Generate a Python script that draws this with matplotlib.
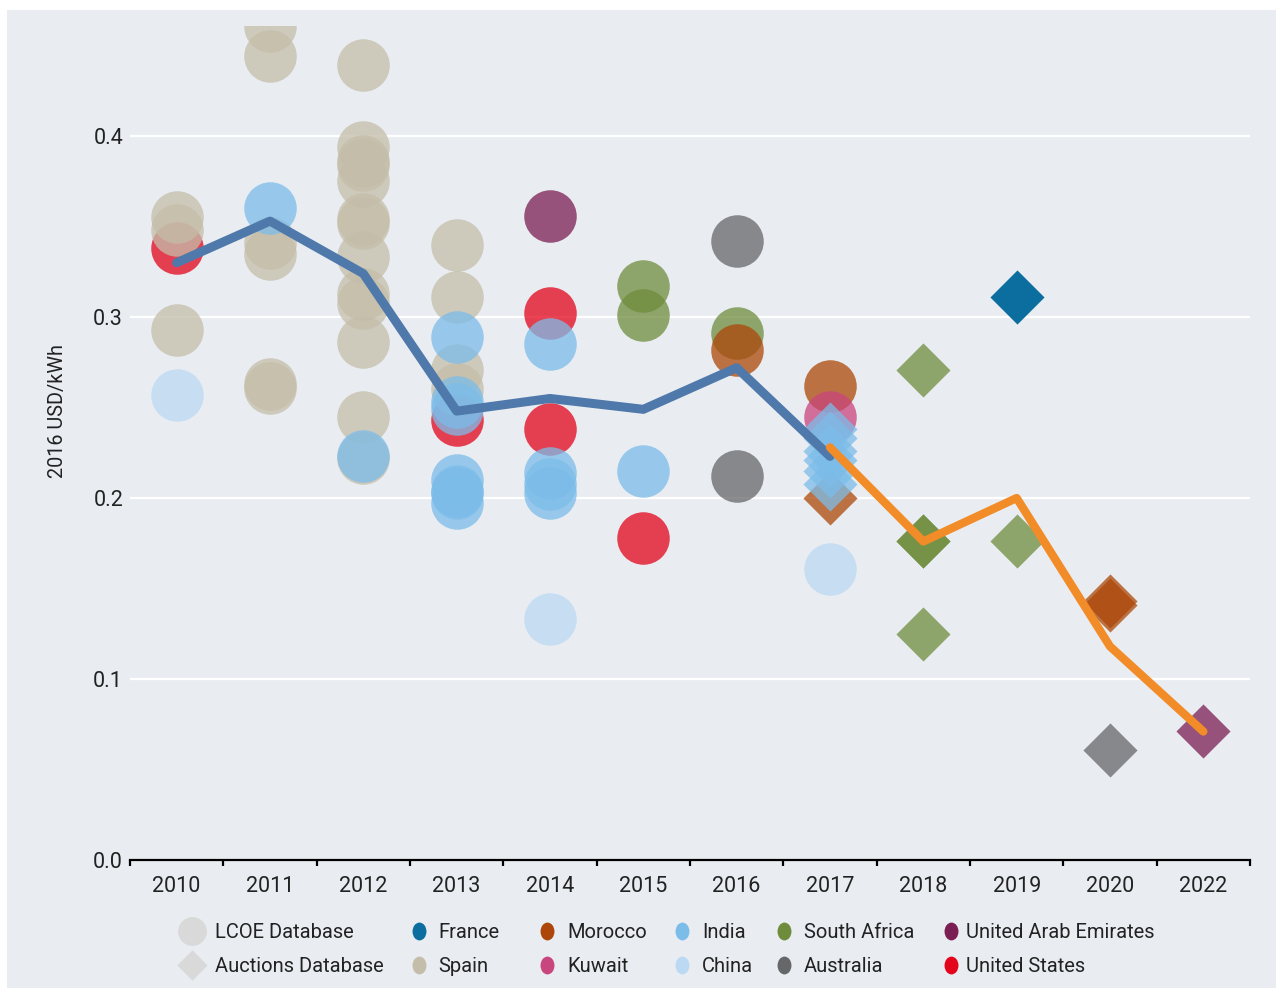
import matplotlib
matplotlib.use("Agg")
import matplotlib.pyplot as plt
from matplotlib.patches import Rectangle
from matplotlib.markers import MarkerStyle
from matplotlib.transforms import Affine2D

plt.rcParams['font.family'] = ['Roboto', 'DejaVu Sans']

# ---------------- data ----------------
years = ['2010', '2011', '2012', '2013', '2014', '2015', '2016', '2017',
         '2018', '2019', '2020', '2022']

# LCOE database (circles), values in 2016 USD/kWh
us_lcoe = {'2010': [0.338], '2013': [0.243], '2014': [0.302, 0.238], '2015': [0.178]}
spain_lcoe = {
    '2010': [0.355, 0.348, 0.293],
    '2011': [0.461, 0.444, 0.341, 0.335, 0.263, 0.261],
    '2012': [0.439, 0.394, 0.386, 0.384, 0.375, 0.354, 0.352, 0.333,
             0.313, 0.308, 0.286, 0.245, 0.222],
    '2013': [0.340, 0.311, 0.271, 0.260],
}
india_lcoe = {
    '2011': [0.360], '2012': [0.223],
    '2013': [0.289, 0.253, 0.249, 0.210, 0.204, 0.203, 0.197],
    '2014': [0.285, 0.214, 0.208, 0.203], '2015': [0.215],
}
china_lcoe = {'2010': [0.257], '2014': [0.133], '2017': [0.161]}
south_africa_lcoe = {'2015': [0.317, 0.301], '2016': [0.291]}
morocco_lcoe = {'2016': [0.282], '2017': [0.262]}
australia_lcoe = {'2016': [0.342, 0.212]}
kuwait_lcoe = {'2017': [0.245]}
uae_lcoe = {'2014': [0.356]}

# Auctions database (diamonds)
morocco_auc = {'2017': [0.200], '2020': [0.143, 0.141]}
india_auc = {'2017': [0.238, 0.233, 0.226, 0.221, 0.215, 0.208]}
south_africa_auc = {'2018': [0.271, 0.176, 0.176, 0.125], '2019': [0.176]}
france_auc = {'2019': [0.311]}
australia_auc = {'2020': [0.061]}
uae_auc = {'2022': [0.071]}

# Averages
lcoe_avg_years = ['2010', '2011', '2012', '2013', '2014', '2015', '2016', '2017']
lcoe_avg = [0.330, 0.353, 0.324, 0.248, 0.255, 0.249, 0.272, 0.223]
auction_avg_years = ['2017', '2018', '2019', '2020', '2022']
auction_avg = [0.228, 0.176, 0.200, 0.118, 0.071]

# colours
C = {
    'France': '#0b6e9f', 'Morocco': '#ad4709', 'India': '#7cbce9',
    'South Africa': '#6f8c3c', 'United Arab Emirates': '#7b1e53',
    'Spain': '#c4bda9', 'Kuwait': '#c9457d', 'China': '#bcd9f3',
    'Australia': '#666769', 'United States': '#e3051b',
}
BG = '#e9edf2'

# ---------------- figure ----------------
W, H = 1279, 990
fig = plt.figure(figsize=(W / 100, H / 100), dpi=100)
fig.patches.append(Rectangle((7 / W, 2 / H), (1276 - 7) / W, (988 - 10) / H,
                             transform=fig.transFigure, facecolor=BG,
                             edgecolor='none', zorder=-10))

ax = fig.add_axes([130 / W, 130 / H, 1120 / W, (860 - 26) / H])
ax.set_facecolor('none')
xi = {y: i for i, y in enumerate(years)}


def pts(d):
    xs, ys = [], []
    for k, vals in d.items():
        for v in vals:
            xs.append(xi[k])
            ys.append(v)
    return xs, ys


S_CIRCLE = 1430
S_DIAMOND = 760
A = 0.75

for d, c in [(us_lcoe, 'United States'), (spain_lcoe, 'Spain'),
             (india_lcoe, 'India'), (china_lcoe, 'China'),
             (south_africa_lcoe, 'South Africa'), (morocco_lcoe, 'Morocco'),
             (australia_lcoe, 'Australia'), (kuwait_lcoe, 'Kuwait'),
             (uae_lcoe, 'United Arab Emirates')]:
    xs, ys = pts(d)
    ax.scatter(xs, ys, s=S_CIRCLE, marker='o', color=C[c], alpha=A,
               linewidths=0, zorder=2)

for d, c, a in [(morocco_auc, 'Morocco', A), (india_auc, 'India', A),
                (south_africa_auc, 'South Africa', A),
                (france_auc, 'France', 1.0),
                (australia_auc, 'Australia', A),
                (uae_auc, 'United Arab Emirates', A)]:
    xs, ys = pts(d)
    ax.scatter(xs, ys, s=S_DIAMOND, marker='D', color=C[c], alpha=a,
               linewidths=0, zorder=3)

ax.plot([xi[y] for y in lcoe_avg_years], lcoe_avg, color='#4f79ab', lw=6.5,
        solid_capstyle='round', solid_joinstyle='round', zorder=5)
ax.plot([xi[y] for y in auction_avg_years], auction_avg, color='#f28c28', lw=6,
        solid_capstyle='round', solid_joinstyle='round', zorder=6)

ax.set_xlim(-0.5, len(years) - 0.5)
ax.set_ylim(0, 0.4608)
ax.set_yticks([0.0, 0.1, 0.2, 0.3, 0.4])
ax.set_yticklabels(['0.0', '0.1', '0.2', '0.3', '0.4'])
ax.yaxis.grid(True, color='white', lw=1.6)
ax.set_axisbelow(True)
ax.tick_params(axis='y', length=0, pad=5, labelsize=15.5, labelcolor='#222222')

ax.set_xticks(range(len(years)))
ax.set_xticklabels(years)
ax.set_xticks([i - 0.5 for i in range(len(years) + 1)], minor=True)
ax.tick_params(axis='x', which='major', length=0, pad=11.5, labelsize=15.5,
               labelcolor='#222222')
ax.tick_params(axis='x', which='minor', length=4.5, width=1.6, color='black',
               direction='out')
for s in ['left', 'right', 'top']:
    ax.spines[s].set_visible(False)
ax.spines['bottom'].set_linewidth(1.6)
ax.spines['bottom'].set_color('black')

fig.text(58 / W, 1 - 411 / H, '2016 USD/kWh', rotation=90, ha='center',
         va='center', fontsize=14.3, color='#222222')

# ---------------- legend (hand-built) ----------------
lax = fig.add_axes([0, 0, 1, 1])
lax.set_xlim(0, W)
lax.set_ylim(H, 0)
lax.axis('off')

leg_marker_x = [192, 419, 547, 682, 784, 951]
leg_text_x = [215, 438, 567, 702, 804, 966]
leg_row_y = [931, 965]
leg_rows = [
    ['LCOE Database', 'France', 'Morocco', 'India', 'South Africa',
     'United Arab Emirates'],
    ['Auctions Database', 'Spain', 'Kuwait', 'China', 'Australia',
     'United States'],
]
small = MarkerStyle('o', transform=Affine2D().scale(0.78, 1.0))
for r, row in enumerate(leg_rows):
    y = leg_row_y[r]
    for cidx, name in enumerate(row):
        mx, tx = leg_marker_x[cidx], leg_text_x[cidx]
        if name == 'LCOE Database':
            lax.scatter([mx], [y], s=430, marker='o', color='#d9d9d9',
                        linewidths=0)
        elif name == 'Auctions Database':
            lax.scatter([mx], [y], s=240, marker='D', color='#d9d9d9',
                        linewidths=0)
        else:
            lax.scatter([mx], [y], s=165, marker=small, color=C[name],
                        linewidths=0)
        lax.text(tx, y + 1, name, ha='left', va='center', fontsize=14.5,
                 color='#222222')

fig.savefig('out.png', dpi=100, facecolor='white')
